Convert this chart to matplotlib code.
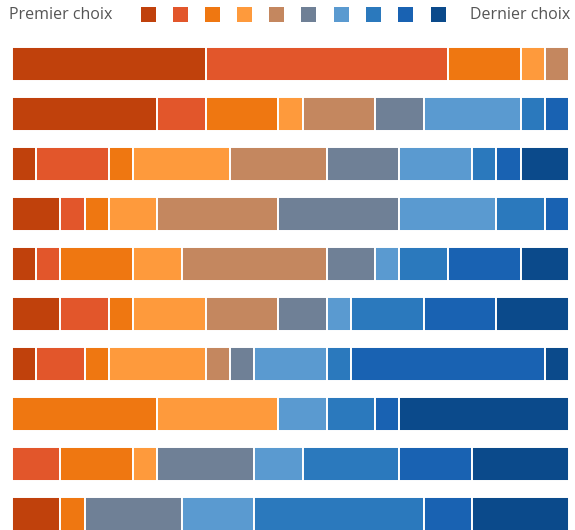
import matplotlib
matplotlib.use("Agg")
import matplotlib.pyplot as plt
from matplotlib.patches import Rectangle
import numpy as np

# Number of respondents placing each item at a given rank (items top to bottom)
rank_1 = [8, 6, 1, 2, 1, 2, 1, 0, 0, 2]
rank_2 = [10, 2, 3, 1, 1, 2, 2, 0, 2, 0]
rank_3 = [3, 3, 1, 1, 3, 1, 1, 6, 3, 1]
rank_4 = [1, 1, 4, 2, 2, 3, 4, 5, 1, 0]
rank_5 = [1, 3, 4, 5, 6, 3, 1, 0, 0, 0]
rank_6 = [0, 2, 3, 5, 2, 2, 1, 0, 4, 4]
rank_7 = [0, 4, 3, 4, 1, 1, 3, 2, 2, 3]
rank_8 = [0, 1, 1, 2, 2, 3, 1, 2, 4, 7]
rank_9 = [0, 1, 1, 1, 3, 3, 8, 1, 3, 2]
rank_10 = [0, 0, 2, 0, 2, 3, 1, 7, 4, 4]

legend_left = "Premier choix"
legend_right = "Dernier choix"

rank_colors = ["#c0410c", "#e2562b", "#ef7711", "#fe9a3c", "#c4875f",
               "#6f8096", "#5a9ad0", "#2b79bd", "#1962b2", "#0b4a8b"]

ranks = [rank_1, rank_2, rank_3, rank_4, rank_5,
         rank_6, rank_7, rank_8, rank_9, rank_10]

W, H = 575, 530
fig = plt.figure(figsize=(W / 100, H / 100), dpi=100)
fig.patch.set_facecolor("white")

# Bar area: 10 rows, 50 px pitch, starting at 39 px from the top
top_px, pitch = 39, 50
ax = fig.add_axes([12 / W, 1 - (top_px + 10 * pitch) / H, 557 / W, 10 * pitch / H])
ypos = np.arange(len(rank_1))
left = np.zeros(len(rank_1))
for vals, col in zip(ranks, rank_colors):
    vals = np.asarray(vals, dtype=float)
    ax.barh(ypos, vals, left=left, height=0.68, color=col,
            edgecolor="white", linewidth=1.4)
    left += vals
ax.set_xlim(0, left.max())
ax.set_ylim(len(rank_1) - 0.5, -0.5)
ax.axis("off")

# Legend strip in pixel coordinates
lax = fig.add_axes([0, 0, 1, 1], zorder=5)
lax.set_xlim(0, W)
lax.set_ylim(H, 0)
lax.axis("off")
lax.patch.set_alpha(0)
font = dict(family=["Open Sans", "DejaVu Sans"], fontsize=11.5, color="#555555")
lax.text(9, 15, legend_left, ha="left", va="center", **font)
lax.text(570, 15, legend_right, ha="right", va="center", **font)
sq = 15
centers = [148, 180, 212, 244, 276, 308, 341, 373, 405, 438]
for cx, col in zip(centers, rank_colors):
    lax.add_patch(Rectangle((cx - sq / 2, 14 - sq / 2), sq, sq,
                            facecolor=col, edgecolor="none"))

fig.savefig("out.png", dpi=100, facecolor="white")
